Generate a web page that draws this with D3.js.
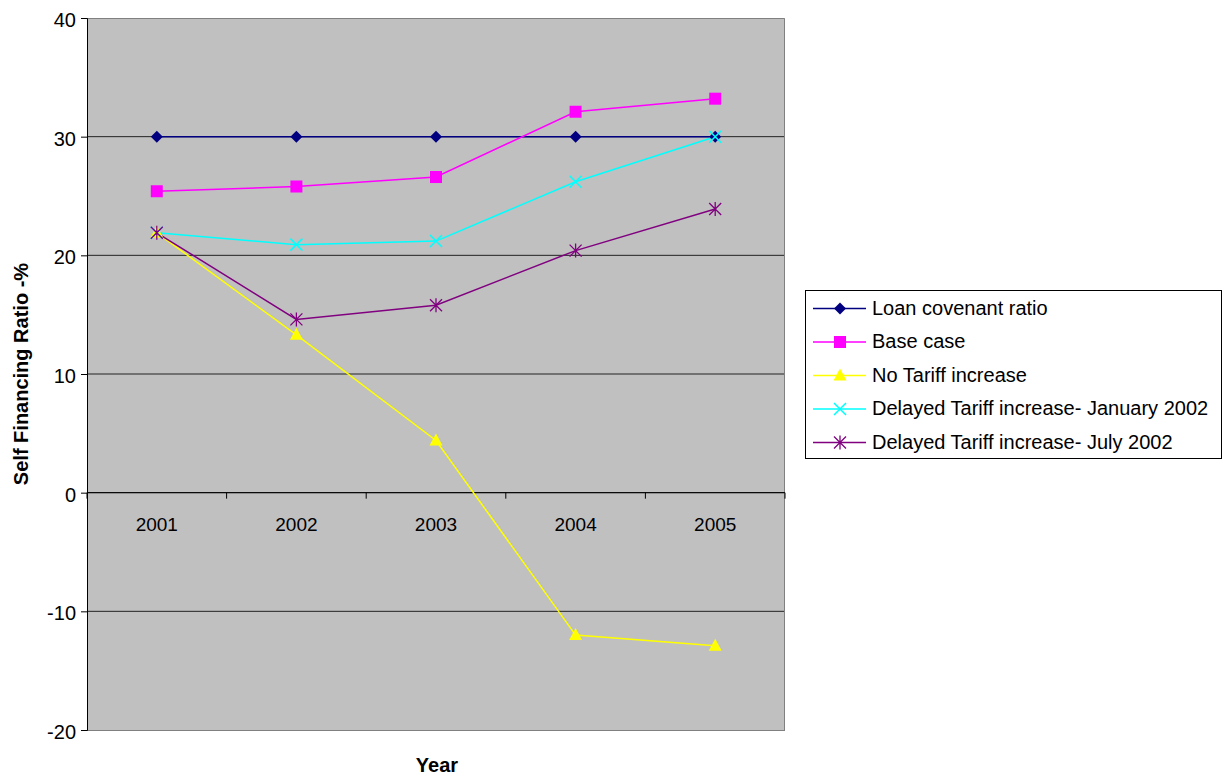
<!DOCTYPE html>
<html><head><meta charset="utf-8">
<script src="https://cdn.jsdelivr.net/npm/d3@7"></script>
<style>body{margin:0;background:#fff;} text{font-family:"Liberation Sans",Arial,sans-serif;}</style>
</head><body>
<svg id="c" width="1231" height="779"></svg>
<script>
const years = ["2001","2002","2003","2004","2005"];
const loanCovenant = [30,30,30,30,30];
const baseCase = [25.4,25.8,26.6,32.1,33.2];
const noTariff = [21.9,13.3,4.4,-12.0,-12.9];
const delayedJan = [21.9,20.9,21.2,26.2,30.0];
const delayedJul = [21.9,14.6,15.8,20.4,23.9];
const yTicks = [-20,-10,0,10,20,30,40];
const seriesNames = ["Loan covenant ratio","Base case","No Tariff increase","Delayed Tariff increase- January 2002","Delayed Tariff increase- July 2002"];

const series = [
  {name:seriesNames[0], values:loanCovenant, color:"#000080", marker:"diamond"},
  {name:seriesNames[1], values:baseCase, color:"#FF00FF", marker:"square"},
  {name:seriesNames[2], values:noTariff, color:"#FFFF00", marker:"triangle"},
  {name:seriesNames[3], values:delayedJan, color:"#00FFFF", marker:"x"},
  {name:seriesNames[4], values:delayedJul, color:"#800080", marker:"star"}
];

const svg = d3.select("#c");
const L=87, R=785, T=18, B=730;
const x = d3.scaleBand().domain(years).range([L,R]);
const y = d3.scaleLinear().domain([-20,40]).range([B,T]);

svg.append("rect").attr("x",L).attr("y",T).attr("width",R-L).attr("height",B-T).attr("fill","#C0C0C0");
// gridlines
svg.append("g").selectAll("line").data(yTicks.filter(d=>d!==-20&&d!==40)).join("line")
  .attr("x1",L).attr("x2",R).attr("y1",d=>y(d)).attr("y2",d=>y(d)).attr("stroke","#222").attr("stroke-width",1);
// border top/right
svg.append("path").attr("d",`M${L},${T+0.5}H${R-0.5}V${B}`).attr("fill","none").attr("stroke","#808080").attr("stroke-width",1);
svg.append("line").attr("x1",L).attr("x2",R).attr("y1",B+0.5).attr("y2",B+0.5).attr("stroke","#808080");

// y axis
const yAxis = d3.axisLeft(y).tickValues(yTicks).tickSize(6).tickPadding(5).tickFormat(d=>String(d));
const gy = svg.append("g").attr("transform",`translate(${L},0)`).call(yAxis);
gy.select(".domain").attr("stroke","#000");
gy.selectAll(".tick line").attr("stroke","#000");
gy.selectAll("text").attr("font-size","20px").attr("fill","#000").attr("dy","0.42em").attr("font-family","Liberation Sans, Arial, sans-serif");

// x axis at 0
const xAxis = d3.axisBottom(x).tickSize(0).tickPadding(25);
const gx = svg.append("g").attr("transform",`translate(0,${y(0)})`).call(xAxis);
gx.select(".domain").remove();
gx.append("line").attr("x1",L).attr("x2",R).attr("stroke","#000");
gx.selectAll(".tick text").attr("font-size","19px").attr("fill","#000").attr("font-family","Liberation Sans, Arial, sans-serif");
const bounds = years.map((d,i)=>x(d)).concat([R]);
gx.selectAll(".bt").data(bounds).join("line").attr("x1",d=>d).attr("x2",d=>d).attr("y1",0).attr("y2",6).attr("stroke","#000");

// lines
const line = d3.line().x((d,i)=>x(years[i])+x.bandwidth()/2).y(d=>y(d));
function drawMarker(g, type, cx, cy, color){
  if(type==="diamond"){
    g.append("path").attr("d",`M${cx},${cy-6}L${cx+6},${cy}L${cx},${cy+6}L${cx-6},${cy}Z`).attr("fill",color);
  } else if(type==="square"){
    g.append("rect").attr("x",cx-6).attr("y",cy-6).attr("width",12).attr("height",12).attr("fill",color);
  } else if(type==="triangle"){
    g.append("path").attr("d",`M${cx},${cy-7}L${cx+6.5},${cy+5}L${cx-6.5},${cy+5}Z`).attr("fill",color);
  } else if(type==="x"){
    g.append("path").attr("d",`M${cx-6},${cy-6}L${cx+6},${cy+6}M${cx-6},${cy+6}L${cx+6},${cy-6}`).attr("stroke",color).attr("stroke-width",1.5);
  } else if(type==="star"){
    g.append("path").attr("d",`M${cx-6},${cy-6}L${cx+6},${cy+6}M${cx-6},${cy+6}L${cx+6},${cy-6}M${cx},${cy-7}V${cy+7}`).attr("stroke",color).attr("stroke-width",1.3);
  }
}
series.forEach(s=>{
  svg.append("path").attr("d",line(s.values)).attr("fill","none").attr("stroke",s.color).attr("stroke-width",1.5);
});
series.forEach(s=>{
  const g=svg.append("g");
  s.values.forEach((v,j)=>drawMarker(g,s.marker,x(years[j])+x.bandwidth()/2,y(v),s.color));
});

// axis titles
svg.append("text").attr("x",437).attr("y",772).attr("text-anchor","middle").attr("font-weight","bold").attr("font-size","20px").text("Year");
svg.append("text").attr("transform",`translate(28,${(T+B)/2}) rotate(-90)`).attr("text-anchor","middle").attr("font-weight","bold").attr("font-size","20px").text("Self Financing Ratio -%");

// legend
const lg = svg.append("g");
lg.append("rect").attr("x",805.5).attr("y",290.5).attr("width",416).attr("height",168).attr("fill","#fff").attr("stroke","#000");
series.forEach((s,i)=>{
  const cy = 308.5 + i*33.5;
  lg.append("line").attr("x1",813).attr("x2",866).attr("y1",cy).attr("y2",cy).attr("stroke",s.color).attr("stroke-width",1.5);
  drawMarker(lg,s.marker,840,cy,s.color);
  lg.append("text").attr("x",872).attr("y",cy+6).attr("font-size","20px").attr("fill","#000").text(s.name);
});
</script>
</body></html>
